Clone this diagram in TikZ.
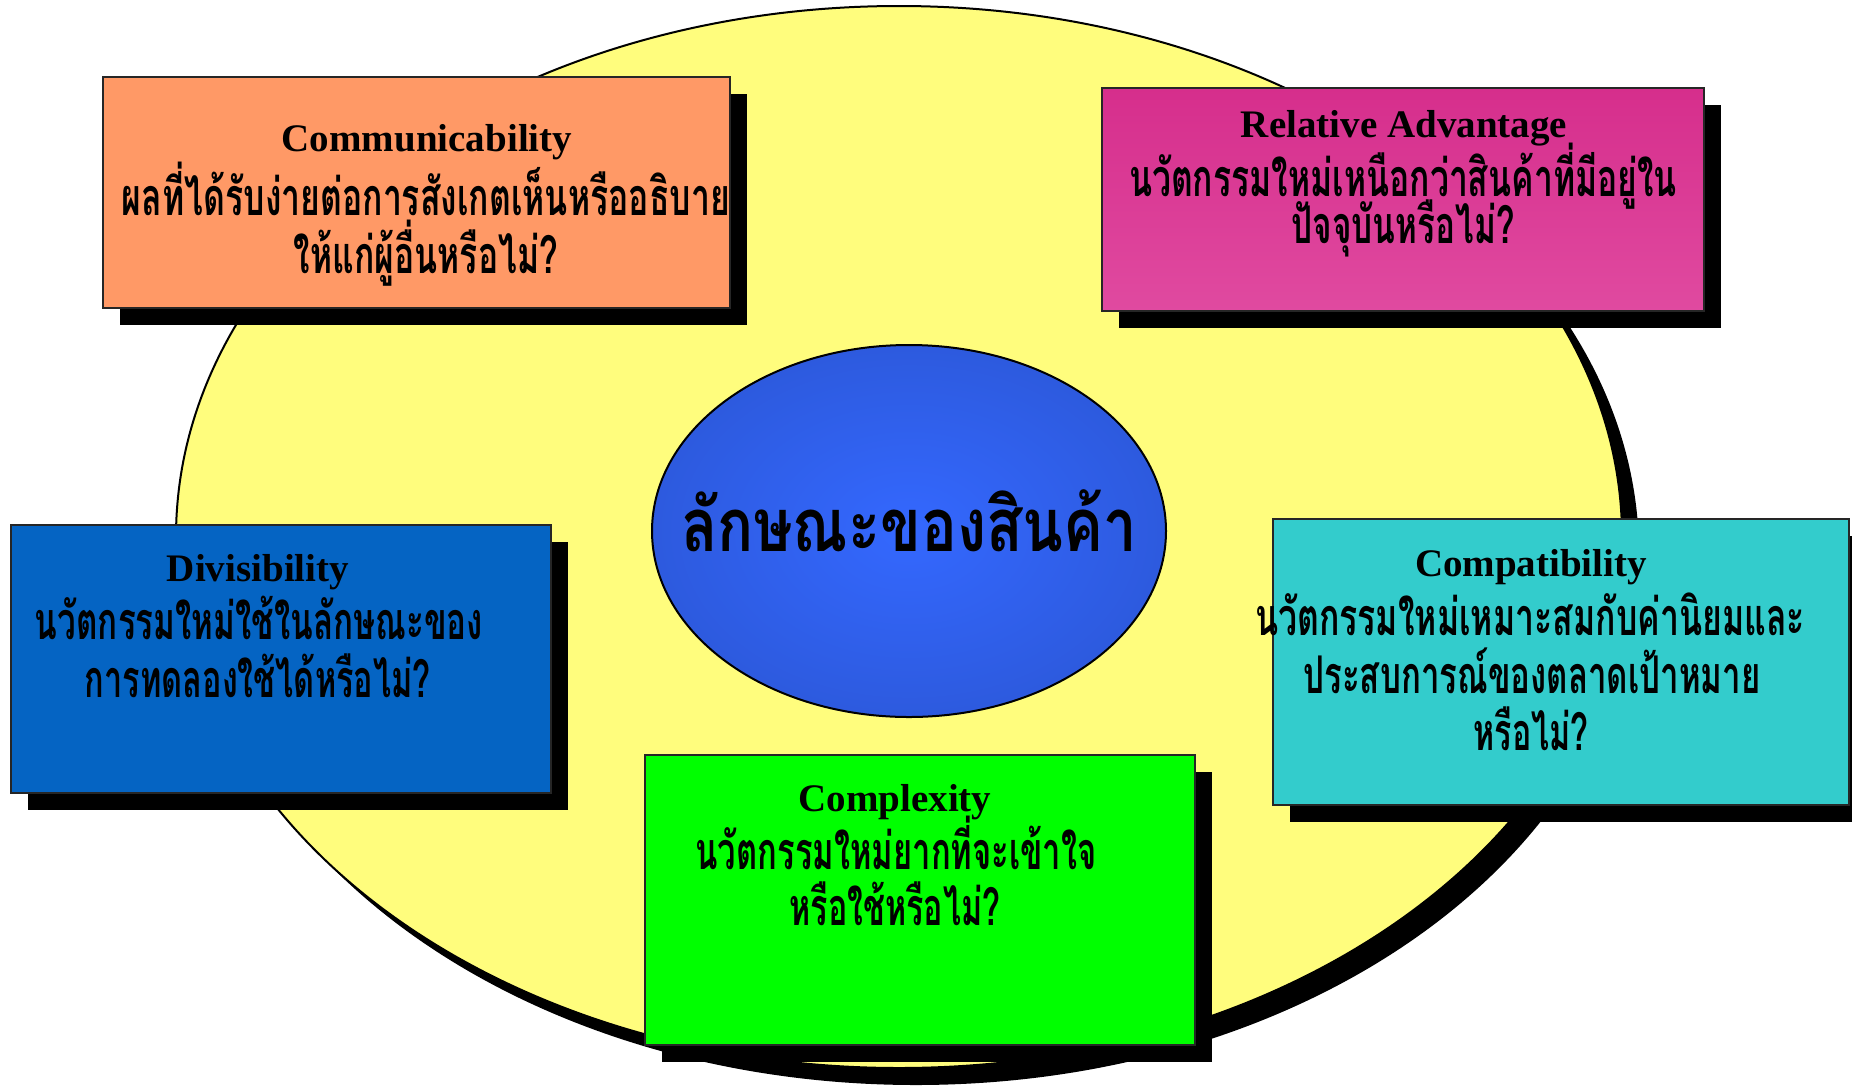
\documentclass[tikz,border=0pt]{standalone}
\usepackage{fontspec}
\usepackage{graphicx}
\setmainfont{Liberation Serif}
\newfontfamily\thaifont[Script=Thai]{Loma}
\usetikzlibrary{shapes.geometric,shadows}

\definecolor{paleyellow}{RGB}{255,253,125}
\definecolor{peach}{RGB}{255,153,102}
\definecolor{magentaA}{RGB}{214,46,140}
\definecolor{magentaB}{RGB}{224,74,160}
\definecolor{royal}{RGB}{5,100,195}
\definecolor{teal}{RGB}{51,204,204}
\definecolor{lime}{RGB}{0,255,0}
\definecolor{coreIn}{RGB}{52,104,255}
\definecolor{coreOut}{RGB}{45,90,222}

% one line of Thai text, squeezed to a given width (pt) at natural height
\newcommand\thline[2]{\resizebox{#1pt}{\height}{\thaifont\fontsize{52}{52}\selectfont\bfseries #2}}

\tikzset{
  blackshadow/.style={drop shadow={shadow xshift=17pt, shadow yshift=-17pt, opacity=1, fill=black}},
  panel/.style={rectangle, draw=black!85, line width=2.5pt, inner sep=0pt, blackshadow},
  heading/.style={anchor=base, inner sep=0pt, font=\fontsize{39}{39}\selectfont\bfseries},
  body/.style={anchor=base, inner sep=0pt},
}

\begin{document}
\begin{tikzpicture}[x=1pt, y=-1pt]
  \useasboundingbox (0,0) rectangle (1852,1085);
  \clip (0,0) rectangle (1852,1085);

  % large backdrop ellipse
  \node[ellipse, draw=black, line width=2pt, fill=paleyellow, inner sep=0pt,
        minimum width=1446pt, minimum height=1062pt, blackshadow] (back) at (899,537) {};

  % central ellipse
  \node[ellipse, draw=black, line width=2pt, inner color=coreIn, outer color=coreOut,
        inner sep=0pt, minimum width=514pt, minimum height=372pt] (core) at (909,531) {};
  \node[body] (coretext) at (909,551)
        {\resizebox{456pt}{\height}{\thaifont\fontsize{74}{74}\selectfont\bfseries ลักษณะของสินค้า}};

  % Communicability
  \node[panel, fill=peach, minimum width=627pt, minimum height=231pt] (comm) at (416.5,192.5) {};
  \node[heading] (commT) at (427,151) {Communicability};
  \node[body] (commA) at (426,215) {\thline{608}{ผลที่ได้รับง่ายต่อการสังเกตเห็นหรืออธิบาย}};
  \node[body] (commB) at (426,273) {\thline{264}{ให้แก่ผู้อื่นหรือไม่?}};

  % Relative Advantage
  \node[panel, top color=magentaA, bottom color=magentaB, minimum width=602pt, minimum height=223pt] (rel) at (1403,199.5) {};
  \node[heading] (relT) at (1404,137) {Relative Advantage};
  \node[body] (relA) at (1403,196) {\thline{548}{นวัตกรรมใหม่เหนือกว่าสินค้าที่มีอยู่ใน}};
  \node[body] (relB) at (1403,243) {\thline{223}{ปัจจุบันหรือไม่?}};

  % Divisibility
  \node[panel, fill=royal, minimum width=540pt, minimum height=268pt] (div) at (281,659) {};
  \node[heading] (divT) at (258,581) {Divisibility};
  \node[body] (divA) at (259,639) {\thline{448}{นวัตกรรมใหม่ใช้ในลักษณะของ}};
  \node[body] (divB) at (258,697) {\thline{346}{การทดลองใช้ได้หรือไม่?}};

  % Compatibility
  \node[panel, fill=teal, minimum width=576pt, minimum height=286pt] (comp) at (1561,662) {};
  \node[heading] (compT) at (1531,576) {Compatibility};
  \node[body] (compA) at (1530,635) {\thline{550}{นวัตกรรมใหม่เหมาะสมกับค่านิยมและ}};
  \node[body] (compB) at (1532,693) {\thline{457}{ประสบการณ์ของตลาดเป้าหมาย}};
  \node[body] (compC) at (1531,750) {\thline{115}{หรือไม่?}};

  % Complexity
  \node[panel, fill=lime, minimum width=550pt, minimum height=290pt] (cplx) at (920,900) {};
  \node[heading] (cplxT) at (895,811) {Complexity};
  \node[body] (cplxA) at (896,869) {\thline{401}{นวัตกรรมใหม่ยากที่จะเข้าใจ}};
  \node[body] (cplxB) at (895,925) {\thline{211}{หรือใช้หรือไม่?}};
\end{tikzpicture}
\end{document}
